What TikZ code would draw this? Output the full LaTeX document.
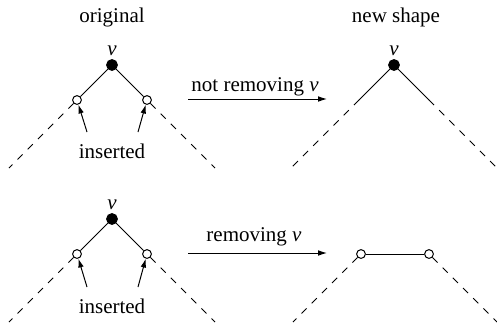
\documentclass[tikz,border=0pt]{standalone}
\usepackage{fontspec}
\setmainfont{Liberation Serif}
\usetikzlibrary{arrows.meta}
\begin{document}
\begin{tikzpicture}[x=0.5pt,y=-0.5pt,line width=0.5pt,
  font=\fontsize{10.5pt}{12pt}\selectfont,
  full/.style={circle,fill=black,draw=black,inner sep=0pt,minimum size=5.4pt},
  hollow/.style={circle,fill=white,draw=black,inner sep=0pt,minimum size=4.4pt},
  tail/.style={dash pattern=on 3.6pt off 3.6pt},
  pointer/.style={-{Latex[length=4.4pt,width=2.8pt]}},
  lbl/.style={anchor=base,inner sep=0pt}]
\useasboundingbox (0,0) rectangle (497,328);

% column headings
\node[lbl] (h1) at (112,22) {original};
\node[lbl] (h2) at (396,22) {new shape};

% ---- upper row: the original tree ----
\node[full] (v1) at (112,65) {};
\node[lbl] (v1l) at (112,55) {\textit{v}};
\node[hollow] (a1) at (77,100) {};
\node[hollow] (b1) at (147,100) {};
\coordinate (a1e) at (9,168);
\coordinate (b1e) at (215,168);
\draw (v1) -- (a1);
\draw (v1) -- (b1);
\draw[tail] (a1) -- (a1e);
\draw[tail] (b1) -- (b1e);
\node[lbl] (ins1) at (112,158) {inserted};
\coordinate (p1) at (87,132);
\coordinate (q1) at (138,132);
\draw[pointer] (p1) -- (a1);
\draw[pointer] (q1) -- (b1);

% transformation arrow
\coordinate (s1) at (188,99);
\coordinate (t1) at (327,99);
\draw[pointer] (s1) -- (t1);
\node[lbl] (m1) at (255,91) {not removing \textit{v}};

% resulting shape
\node[full] (w1) at (394,65) {};
\node[lbl] (w1l) at (394,55) {\textit{v}};
\coordinate (c1) at (359,100);
\coordinate (d1) at (429,100);
\coordinate (c1e) at (291,168);
\coordinate (d1e) at (497,168);
\draw (w1) -- (c1);
\draw (w1) -- (d1);
\draw[tail] (c1) -- (c1e);
\draw[tail] (d1) -- (d1e);

% ---- lower row: the original tree ----
\node[full] (v2) at (112,219) {};
\node[lbl] (v2l) at (112,209) {\textit{v}};
\node[hollow] (a2) at (77,254) {};
\node[hollow] (b2) at (147,254) {};
\coordinate (a2e) at (9,322);
\coordinate (b2e) at (215,322);
\draw (v2) -- (a2);
\draw (v2) -- (b2);
\draw[tail] (a2) -- (a2e);
\draw[tail] (b2) -- (b2e);
\node[lbl] (ins2) at (112,313) {inserted};
\coordinate (p2) at (87,287);
\coordinate (q2) at (138,287);
\draw[pointer] (p2) -- (a2);
\draw[pointer] (q2) -- (b2);

% transformation arrow
\coordinate (s2) at (188,253);
\coordinate (t2) at (327,253);
\draw[pointer] (s2) -- (t2);
\node[lbl] (m2) at (254,241) {removing \textit{v}};

% resulting shape
\node[hollow] (c2) at (361,254) {};
\node[hollow] (d2) at (429,254) {};
\coordinate (c2e) at (293,322);
\coordinate (d2e) at (497,322);
\draw (c2) -- (d2);
\draw[tail] (c2) -- (c2e);
\draw[tail] (d2) -- (d2e);
\end{tikzpicture}
\end{document}
